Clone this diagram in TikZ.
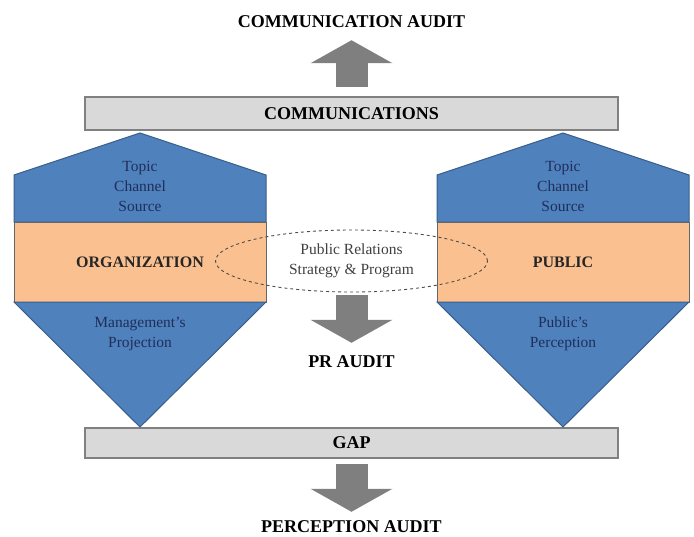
\documentclass[tikz,border=0pt]{standalone}
\usepackage{fontspec}
\setmainfont{Liberation Serif}
\usetikzlibrary{shapes.geometric,arrows.meta}

\definecolor{facetblue}{HTML}{4F81BD}
\definecolor{facetedge}{HTML}{385D8A}
\definecolor{bandpeach}{HTML}{FAC090}
\definecolor{bargray}{HTML}{D9D9D9}
\definecolor{baredge}{HTML}{808080}
\definecolor{arrowgray}{HTML}{7F7F7F}
\definecolor{labelnavy}{HTML}{1F2F5A}

\tikzset{
  heading/.style={font=\bfseries\fontsize{18}{20}\selectfont, inner sep=0pt},
  bar/.style={rectangle, draw=baredge, fill=bargray, line width=1.2pt, minimum width=533pt, minimum height=33pt, inner sep=0pt, font=\bfseries\fontsize{18}{20}\selectfont},
  facet/.style={draw=facetedge, fill=facetblue, line width=1pt, line join=miter},
  band/.style={rectangle, draw=black!60, fill=bandpeach, line width=1pt, minimum width=252pt, minimum height=80pt, inner sep=0pt, font=\bfseries\fontsize{16}{18}\selectfont, text=black!85},
  facettext/.style={align=center, text=labelnavy, inner sep=0pt, font=\fontsize{15.5}{20}\selectfont},
  blockarrow/.style={draw=arrowgray, line width=32pt, -{Triangle[length=23pt, width=82pt, line width=0pt]}},
}

\begin{document}
\begin{tikzpicture}[x=1pt, y=-1pt]

\useasboundingbox (0,0) rectangle (694,536);

%% headings and bars
\node[heading] (caudit) at (351.5,22) {COMMUNICATION AUDIT};
\node[bar] (comm) at (351.5,113.5) {COMMUNICATIONS};
\node[bar, minimum height=30pt] (gap) at (351.5,443) {GAP};
\node[heading] (praudit) at (351.5,362) {PR AUDIT};
\node[heading] (paudit) at (351.5,527) {PERCEPTION AUDIT};

%% organization side
\draw[facet] (14,222) -- (14,175) -- (140,133) -- (266,175) -- (266,222) -- cycle;
\node[band] (org) at (140,262) {ORGANIZATION};
\draw[facet] (14,302) -- (266,302) -- (140,427) -- cycle;
\node[facettext] (orgchan) at (140,186) {Topic\\Channel\\Source};
\node[facettext] (orgproj) at (140,334) {Management's\\Projection};

%% public side
\draw[facet] (437,222) -- (437,175) -- (563,133) -- (689,175) -- (689,222) -- cycle;
\node[band] (pub) at (563,262) {PUBLIC};
\draw[facet] (437,302) -- (689,302) -- (563,427) -- cycle;
\node[facettext] (pubchan) at (563,186) {Topic\\Channel\\Source};
\node[facettext] (pubperc) at (563,334) {Public's\\Perception};

%% program in the middle
\node[ellipse, draw=black!70, dashed, line width=0.9pt, minimum width=272pt, minimum height=62pt, align=center, text=black!75, font=\fontsize{15.5}{20}\selectfont] (prog) at (351.5,261) {Public Relations\\Strategy \& Program};

\draw[blockarrow, shorten <=9pt, shorten >=12pt] (comm.north) -- (caudit.south);
\draw[blockarrow, shorten <=3pt, shorten >=13pt] (prog.south) -- (praudit.north);
\draw[blockarrow, shorten <=5pt, shorten >=9pt] (gap.south) -- (paudit.north);

\end{tikzpicture}
\end{document}
